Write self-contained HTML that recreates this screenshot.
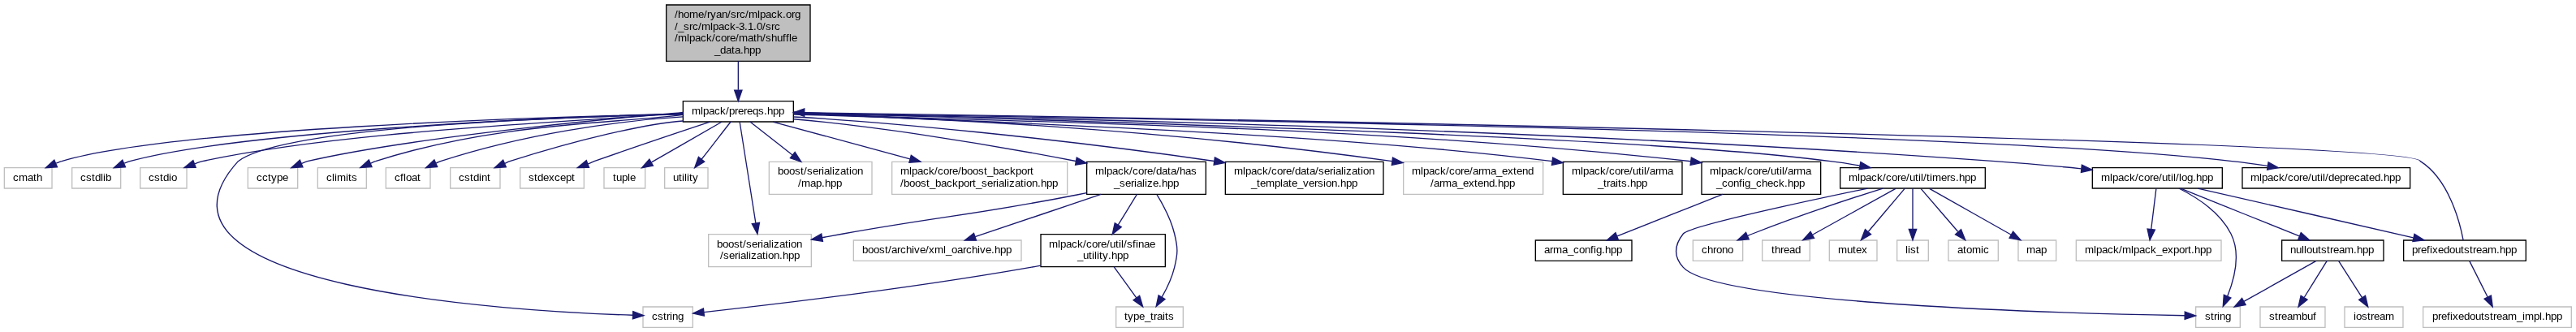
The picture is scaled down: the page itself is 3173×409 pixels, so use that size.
<!DOCTYPE html>
<html><head><meta charset="utf-8"><title>shuffle_data.hpp include graph</title>
<style>
html,body{margin:0;padding:0;background:#fff;width:3173px;height:409px;overflow:hidden}
svg{display:block;will-change:transform}
svg text{font-family:"Liberation Sans",sans-serif;font-size:10px}
</style></head><body>
<svg width="3172.667" height="409.333"
 viewBox="0.00 0.00 2379.50 307.00">
<g transform="scale(1 1) rotate(0) translate(4 303)">
<polygon fill="white" stroke="transparent" points="-4,4 -4,-303 2375.5,-303 2375.5,4 -4,4"/>
<g>
<polygon fill="#bfbfbf" stroke="black" points="611.5,-246.5 611.5,-298.5 744.5,-298.5 744.5,-246.5 611.5,-246.5"/>
<text x="619.25 622.25 627.50 632.75 641.00 646.25 649.25 652.25 657.50 662.75 668.00 671.00 676.25 679.25 684.50 687.50 695.75 698.00 703.25 708.50 713.75 719.00 722.00 727.25 730.25" y="-286.5">/home/ryan/src/mlpack.org</text>
<text x="619.25 622.25 627.50 632.75 635.75 641.00 644.00 652.25 654.50 659.75 665.00 670.25 675.50 678.50 683.75 686.75 692.00 695.00 700.25 703.25 708.50 711.50" y="-275.5">/_src/mlpack&#45;3.1.0/src</text>
<text x="619.25 622.25 630.50 632.75 638.00 643.25 648.50 653.75 656.75 662.00 667.25 670.25 675.50 678.50 686.75 692.00 695.00 700.25 703.25 708.50 713.75 719.00 722.00 725.00 727.25" y="-264.5">/mlpack/core/math/shuffle</text>
<text x="656.00 661.25 666.50 671.75 674.75 680.00 683.00 688.25 693.50" y="-253.5">_data.hpp</text>
</g>
<g>
<polygon fill="white" stroke="black" points="627,-190.5 627,-209.5 729,-209.5 729,-190.5 627,-190.5"/>
<text x="635.00 643.25 645.50 650.75 656.00 661.25 666.50 669.50 674.75 677.75 683.00 686.00 691.25 696.50 701.75 704.75 710.00 715.25" y="-197.5">mlpack/prereqs.hpp</text>
</g>
<g>
<path fill="none" stroke="midnightblue" d="M678,-246.45C678,-237.73 678,-228.1 678,-219.96"/>
<polygon fill="midnightblue" stroke="midnightblue" points="681.5,-219.7 678,-209.7 674.5,-219.7 681.5,-219.7"/>
</g>
<g>
<polygon fill="white" stroke="#bfbfbf" points="0,-129 0,-148 44,-148 44,-129 0,-129"/>
<text x="8.00 13.25 21.50 26.75 29.75" y="-136">cmath</text>
</g>
<g>
<path fill="none" stroke="midnightblue" d="M626.79,-197.71C494.19,-195.22 150.50,-183.47 53.00,-154.00 51.02,-153.48 49.90,-152.84 47.91,-152.12"/>
<polygon fill="midnightblue" stroke="midnightblue" points="48.83,-148.71 38.25,-148.03 46.10,-155.16 48.83,-148.71"/>
</g>
<g>
<polygon fill="white" stroke="#bfbfbf" points="62.5,-129 62.5,-148 107.5,-148 107.5,-129 62.5,-129"/>
<text x="70.25 75.50 80.75 83.75 89.00 91.25 93.50" y="-136">cstdlib</text>
</g>
<g>
<path fill="none" stroke="midnightblue" d="M626.73,-197.23C498.61,-195.62 211.19,-180.22 116.00,-154.00 114.02,-153.48 112.91,-152.83 110.91,-152.10"/>
<polygon fill="midnightblue" stroke="midnightblue" points="111.83,-148.69 101.26,-148.01 109.10,-155.14 111.83,-148.69"/>
</g>
<g>
<polygon fill="white" stroke="#bfbfbf" points="125.5,-129 125.5,-148 168.5,-148 168.5,-129 125.5,-129"/>
<text x="133.25 138.50 143.75 146.75 152.00 154.25" y="-136">cstdio</text>
</g>
<g>
<path fill="none" stroke="midnightblue" d="M626.97,-199.23C541.90,-190.19 322.78,-183.99 183.00,-154.00 180.33,-153.36 178.50,-152.55 175.79,-151.65"/>
<polygon fill="midnightblue" stroke="midnightblue" points="176.84,-148.30 166.24,-148.09 174.39,-154.86 176.84,-148.30"/>
</g>
<g>
<polygon fill="white" stroke="#bfbfbf" points="590,-0.5 590,-19.5 636,-19.5 636,-0.5 590,-0.5"/>
<text x="598.25 603.50 608.75 611.75 614.75 617.00 622.25" y="-7.5">cstring</text>
</g>
<g>
<path fill="none" stroke="midnightblue" d="M626.96,-197.81C525.03,-194.83 260.91,-187.19 216.00,-154.00 109.54,-36.66 467.20,-15.52 580.49,-11.79"/>
<polygon fill="midnightblue" stroke="midnightblue" points="580.79,-15.28 590.67,-11.48 580.57,-8.28 580.79,-15.28"/>
</g>
<g>
<polygon fill="white" stroke="#bfbfbf" points="225,-129 225,-148 271,-148 271,-129 225,-129"/>
<text x="233.00 238.25 243.50 246.50 251.75 257.00" y="-136">cctype</text>
</g>
<g>
<path fill="none" stroke="midnightblue" d="M626.78,-198.29C610.52,-198.60 384.74,-178.19 280.00,-154.00 277.85,-153.41 276.56,-152.69 274.39,-151.89"/>
<polygon fill="midnightblue" stroke="midnightblue" points="275.72,-148.65 265.14,-148.04 273.03,-155.12 275.72,-148.65"/>
</g>
<g>
<polygon fill="white" stroke="#bfbfbf" points="289.5,-129 289.5,-148 334.5,-148 334.5,-129 289.5,-129"/>
<text x="297.50 302.75 305.00 307.25 315.50 317.75 320.75" y="-136">climits</text>
</g>
<g>
<path fill="none" stroke="midnightblue" d="M626.77,-196.94C571.53,-189.23 455.79,-190.37 343.00,-154.00 341.12,-153.45 340.11,-152.80 338.20,-152.08"/>
<polygon fill="midnightblue" stroke="midnightblue" points="339.52,-148.84 328.95,-148.14 336.77,-155.28 339.52,-148.84"/>
</g>
<g>
<polygon fill="white" stroke="#bfbfbf" points="352.5,-129 352.5,-148 393.5,-148 393.5,-129 352.5,-129"/>
<text x="360.50 365.75 368.75 371.00 376.25 381.50" y="-136">cfloat</text>
</g>
<g>
<path fill="none" stroke="midnightblue" d="M626.80,-195.06C566.28,-191.43 479.37,-179.00 403.00,-154.00 401.33,-153.47 400.54,-152.87 398.85,-152.21"/>
<polygon fill="midnightblue" stroke="midnightblue" points="399.99,-148.89 389.43,-148.06 397.17,-155.29 399.99,-148.89"/>
</g>
<g>
<polygon fill="white" stroke="#bfbfbf" points="412,-129 412,-148 458,-148 458,-129 412,-129"/>
<text x="419.75 425.00 430.25 433.25 438.50 440.75 446.00" y="-136">cstdint</text>
</g>
<g>
<path fill="none" stroke="midnightblue" d="M626.88,-191.27C590.88,-188.29 530.69,-174.23 467.00,-154.00 465.13,-153.39 464.13,-152.70 462.22,-151.96"/>
<polygon fill="midnightblue" stroke="midnightblue" points="463.47,-148.69 452.90,-148.02 460.75,-155.14 463.47,-148.69"/>
</g>
<g>
<polygon fill="white" stroke="#bfbfbf" points="476.5,-129 476.5,-148 535.5,-148 535.5,-129 476.5,-129"/>
<text x="484.25 489.50 492.50 497.75 503.00 508.25 513.50 518.75 524.00" y="-136">stdexcept</text>
</g>
<g>
<path fill="none" stroke="midnightblue" d="M651.93,-190.43C625.05,-181.54 581.98,-167.13 545.00,-154.00 542.76,-153.20 541.35,-152.37 539.03,-151.53"/>
<polygon fill="midnightblue" stroke="midnightblue" points="540.14,-148.21 529.54,-148.05 537.72,-154.78 540.14,-148.21"/>
</g>
<g>
<polygon fill="white" stroke="#bfbfbf" points="554,-129 554,-148 592,-148 592,-129 554,-129"/>
<text x="562.25 565.25 570.50 575.75 578.00" y="-136">tuple</text>
</g>
<g>
<path fill="none" stroke="midnightblue" d="M662.96,-190.48C645.72,-180.71 618.16,-164.58 597.87,-153.08"/>
<polygon fill="midnightblue" stroke="midnightblue" points="599.34,-149.89 588.92,-148.01 595.89,-155.98 599.34,-149.89"/>
</g>
<g>
<polygon fill="white" stroke="#bfbfbf" points="610,-129 610,-148 650,-148 650,-129 610,-129"/>
<text x="617.75 623.00 626.00 628.25 630.50 632.75 635.75" y="-136">utility</text>
</g>
<g>
<path fill="none" stroke="midnightblue" d="M671.12,-190.48C663.85,-181.46 653.10,-167.02 644.06,-155.81"/>
<polygon fill="midnightblue" stroke="midnightblue" points="646.77,-153.59 637.76,-148.01 641.32,-157.99 646.77,-153.59"/>
</g>
<g>
<polygon fill="white" stroke="#bfbfbf" points="650.5,-56.5 650.5,-86.5 745.5,-86.5 745.5,-56.5 650.5,-56.5"/>
<text x="658.25 663.50 668.75 674.00 679.25 682.25 685.25 690.50 695.75 698.75 701.00 706.25 708.50 710.75 716.00 721.25 724.25 726.50 731.75" y="-74.5">boost/serialization</text>
<text x="661.25 664.25 669.50 674.75 677.75 680.00 685.25 687.50 689.75 695.00 700.25 703.25 705.50 710.75 716.00 719.00 724.25 729.50" y="-63.5">/serialization.hpp</text>
</g>
<g>
<path fill="none" stroke="midnightblue" d="M679.37,-190.31C682.38,-171.3 689.63,-125.47 694.14,-96.9"/>
<polygon fill="midnightblue" stroke="midnightblue" points="697.62,-97.31 695.73,-86.89 690.71,-96.22 697.62,-97.31"/>
</g>
<g>
<polygon fill="white" stroke="#bfbfbf" points="706.5,-123.5 706.5,-153.5 801.5,-153.5 801.5,-123.5 706.5,-123.5"/>
<text x="714.50 719.75 725.00 730.25 735.50 738.50 741.50 746.75 752.00 755.00 757.25 762.50 764.75 767.00 772.25 777.50 780.50 782.75 788.00" y="-141.5">boost/serialization</text>
<text x="733.25 736.25 744.50 749.75 755.00 758.00 763.25 768.50" y="-130.5">/map.hpp</text>
</g>
<g>
<path fill="none" stroke="midnightblue" d="M688.89,-190.48C699.09,-182.49 714.72,-170.25 728.11,-159.77"/>
<polygon fill="midnightblue" stroke="midnightblue" points="730.37,-162.44 736.09,-153.52 726.06,-156.93 730.37,-162.44"/>
</g>
<g>
<polygon fill="white" stroke="#bfbfbf" points="820,-123.5 820,-153.5 982,-153.5 982,-123.5 820,-123.5"/>
<text x="827.75 836.00 838.25 843.50 848.75 854.00 859.25 862.25 867.50 872.75 875.75 881.00 884.00 889.25 894.50 899.75 905.00 908.00 913.25 918.50 923.75 929.00 934.25 939.50 944.75 947.75" y="-141.5">mlpack/core/boost_backport</text>
<text x="827.75 830.75 836.00 841.25 846.50 851.75 854.75 860.00 865.25 870.50 875.75 881.00 886.25 891.50 894.50 897.50 902.75 908.00 913.25 916.25 918.50 923.75 926.00 928.25 933.50 938.75 941.75 944.00 949.25 954.50 957.50 962.75 968.00" y="-130.5">/boost_backport_serialization.hpp</text>
</g>
<g>
<path fill="none" stroke="midnightblue" d="M709.95,-190.48C743.40,-181.55 794.83,-167.31 836.67,-156.14"/>
<polygon fill="midnightblue" stroke="midnightblue" points="837.73,-159.48 846.49,-153.52 835.93,-152.72 837.73,-159.48"/>
</g>
<g>
<polygon fill="white" stroke="black" points="1000,-123.5 1000,-153.5 1110,-153.5 1110,-123.5 1000,-123.5"/>
<text x="1007.75 1016.00 1018.25 1023.50 1028.75 1034.00 1039.25 1042.25 1047.50 1052.75 1055.75 1061.00 1064.00 1069.25 1074.50 1077.50 1082.75 1085.75 1091.00 1096.25" y="-141.5">mlpack/core/data/has</text>
<text x="1025.00 1030.25 1035.50 1040.75 1043.75 1046.00 1051.25 1053.50 1055.75 1061.00 1066.25 1069.25 1074.50 1079.75" y="-130.5">_serialize.hpp</text>
</g>
<g>
<path fill="none" stroke="midnightblue" d="M729.17,-192.92C790.40,-188.10 892.12,-173.09 989.85,-154.12"/>
<polygon fill="midnightblue" stroke="midnightblue" points="990.7,-157.53 999.9,-152.28 989.43,-150.64 990.7,-157.53"/>
</g>
<g>
<polygon fill="white" stroke="black" points="1128,-123.5 1128,-153.5 1274,-153.5 1274,-123.5 1128,-123.5"/>
<text x="1136.00 1144.25 1146.50 1151.75 1157.00 1162.25 1167.50 1170.50 1175.75 1181.00 1184.00 1189.25 1192.25 1197.50 1202.75 1205.75 1211.00 1214.00 1219.25 1224.50 1227.50 1229.75 1235.00 1237.25 1239.50 1244.75 1250.00 1253.00 1255.25 1260.50" y="-141.5">mlpack/core/data/serialization</text>
<text x="1151.75 1157.00 1160.00 1165.25 1173.50 1178.75 1181.00 1186.25 1189.25 1194.50 1199.75 1205.00 1210.25 1213.25 1218.50 1220.75 1226.00 1231.25 1234.25 1239.50 1244.75" y="-130.5">_template_version.hpp</text>
</g>
<g>
<path fill="none" stroke="midnightblue" d="M729.08,-195.01C810.61,-190.70 970.99,-175.41 1117.63,-154.13"/>
<polygon fill="midnightblue" stroke="midnightblue" points="1118.3,-157.57 1127.72,-152.73 1117.34,-150.63 1118.3,-157.57"/>
</g>
<g>
<polygon fill="white" stroke="#bfbfbf" points="1292.5,-123.5 1292.5,-153.5 1421.5,-153.5 1421.5,-123.5 1292.5,-123.5"/>
<text x="1300.25 1308.50 1310.75 1316.00 1321.25 1326.50 1331.75 1334.75 1340.00 1345.25 1348.25 1353.50 1356.50 1361.75 1364.75 1373.00 1378.25 1383.50 1388.75 1394.00 1397.00 1402.25 1407.50" y="-141.5">mlpack/core/arma_extend</text>
<text x="1317.50 1320.50 1325.75 1328.75 1337.00 1342.25 1347.50 1352.75 1358.00 1361.00 1366.25 1371.50 1376.75 1379.75 1385.00 1390.25" y="-130.5">/arma_extend.hpp</text>
</g>
<g>
<path fill="none" stroke="midnightblue" d="M729.21,-197.25C843.69,-194.73 1059.62,-185.03 1282.09,-154.01"/>
<polygon fill="midnightblue" stroke="midnightblue" points="1282.65,-157.46 1292.1,-152.67 1281.73,-150.53 1282.65,-157.46"/>
</g>
<g>
<polygon fill="white" stroke="black" points="1440,-123.5 1440,-153.5 1550,-153.5 1550,-123.5 1440,-123.5"/>
<text x="1448.00 1456.25 1458.50 1463.75 1469.00 1474.25 1479.50 1482.50 1487.75 1493.00 1496.00 1501.25 1504.25 1509.50 1512.50 1514.75 1517.00 1520.00 1525.25 1528.25 1536.50" y="-141.5">mlpack/core/util/arma</text>
<text x="1472.00 1477.25 1480.25 1483.25 1488.50 1490.75 1493.75 1499.00 1502.00 1507.25 1512.50" y="-130.5">_traits.hpp</text>
</g>
<g>
<path fill="none" stroke="midnightblue" d="M729.42,-198.81C843.97,-191.44 1190.60,-183.83 1430.01,-153.97"/>
<polygon fill="midnightblue" stroke="midnightblue" points="1430.53,-157.43 1439.95,-152.57 1429.56,-150.5 1430.53,-157.43"/>
</g>
<g>
<polygon fill="white" stroke="black" points="1568,-123.5 1568,-153.5 1678,-153.5 1678,-123.5 1568,-123.5"/>
<text x="1575.50 1583.75 1586.00 1591.25 1596.50 1601.75 1607.00 1610.00 1615.25 1620.50 1623.50 1628.75 1631.75 1637.00 1640.00 1642.25 1644.50 1647.50 1652.75 1655.75 1664.00" y="-141.5">mlpack/core/util/arma</text>
<text x="1581.50 1586.75 1592.00 1597.25 1602.50 1605.50 1607.75 1613.00 1618.25 1623.50 1628.75 1634.00 1639.25 1644.50 1647.50 1652.75 1658.00" y="-130.5">_config_check.hpp</text>
</g>
<g>
<path fill="none" stroke="midnightblue" d="M729.43,-199.45C865.20,-189.07 1205.86,-192.50 1558.03,-153.96"/>
<polygon fill="midnightblue" stroke="midnightblue" points="1558.52,-157.43 1567.95,-152.6 1557.57,-150.49 1558.52,-157.43"/>
</g>
<g>
<polygon fill="white" stroke="black" points="1696,-129 1696,-148 1830,-148 1830,-129 1696,-129"/>
<text x="1703.75 1712.00 1714.25 1719.50 1724.75 1730.00 1735.25 1738.25 1743.50 1748.75 1751.75 1757.00 1760.00 1765.25 1768.25 1770.50 1772.75 1775.75 1778.75 1781.00 1789.25 1794.50 1797.50 1802.75 1805.75 1811.00 1816.25" y="-136">mlpack/core/util/timers.hpp</text>
</g>
<g>
<path fill="none" stroke="midnightblue" d="M729.13,-199.31C757.85,-196.66 1479.83,-181.76 1687.00,-154.00 1695.82,-152.97 1705.15,-151.50 1714.15,-149.89"/>
<polygon fill="midnightblue" stroke="midnightblue" points="1714.92,-153.31 1724.11,-148.03 1713.64,-146.43 1714.92,-153.31"/>
</g>
<g>
<polygon fill="white" stroke="black" points="1929,-129 1929,-148 2049,-148 2049,-129 1929,-129"/>
<text x="1937.00 1945.25 1947.50 1952.75 1958.00 1963.25 1968.50 1971.50 1976.75 1982.00 1985.00 1990.25 1993.25 1998.50 2001.50 2003.75 2006.00 2009.00 2011.25 2016.50 2021.75 2024.75 2030.00 2035.25" y="-136">mlpack/core/util/log.hpp</text>
</g>
<g>
<path fill="none" stroke="midnightblue" d="M729.27,-198.07C914.30,-195.13 1414.22,-185.13 1839.00,-154.00 1865.04,-152.24 1893.56,-149.65 1918.68,-147.14"/>
<polygon fill="midnightblue" stroke="midnightblue" points="1919.25,-150.6 1928.85,-146.11 1918.55,-143.64 1919.25,-150.6"/>
</g>
<g>
<polygon fill="white" stroke="black" points="2067.5,-129 2067.5,-148 2222.5,-148 2222.5,-129 2067.5,-129"/>
<text x="2075.00 2083.25 2085.50 2090.75 2096.00 2101.25 2106.50 2109.50 2114.75 2120.00 2123.00 2128.25 2131.25 2136.50 2139.50 2141.75 2144.00 2147.00 2152.25 2157.50 2162.75 2165.75 2171.00 2176.25 2181.50 2184.50 2189.75 2195.00 2198.00 2203.25 2208.50" y="-136">mlpack/core/util/deprecated.hpp</text>
</g>
<g>
<path fill="none" stroke="midnightblue" d="M729.08,-198.24C930.13,-195.26 1795.49,-184.38 2058.00,-154.00 2068.62,-152.95 2079.91,-151.39 2090.72,-149.69"/>
<polygon fill="midnightblue" stroke="midnightblue" points="2091.59,-153.09 2100.89,-148.02 2090.46,-146.18 2091.59,-153.09"/>
</g>
<g>
<path fill="none" stroke="midnightblue" d="M999.88,-124.8C996.88,-124.18 993.91,-123.57 991,-123 895.5,-104.24 870.83,-104.01 775,-87 768.76,-85.89 762.24,-84.71 755.75,-83.51"/>
<polygon fill="midnightblue" stroke="midnightblue" points="756.09,-80.01 745.62,-81.63 754.81,-86.9 756.09,-80.01"/>
</g>
<g>
<polygon fill="white" stroke="#bfbfbf" points="784.5,-62 784.5,-81 939.5,-81 939.5,-62 784.5,-62"/>
<text x="792.50 797.75 803.00 808.25 813.50 816.50 819.50 824.75 827.75 833.00 838.25 840.50 845.75 851.00 854.00 859.25 867.50 869.75 875.00 880.25 885.50 888.50 893.75 899.00 901.25 906.50 911.75 914.75 920.00 925.25" y="-69">boost/archive/xml_oarchive.hpp</text>
</g>
<g>
<path fill="none" stroke="midnightblue" d="M1013.12,-123.4C978.36,-111.69 929.49,-95.23 896.84,-84.23"/>
<polygon fill="midnightblue" stroke="midnightblue" points="897.85,-80.88 887.26,-81.01 895.62,-87.52 897.85,-80.88"/>
</g>
<g>
<polygon fill="white" stroke="black" points="957.5,-56.5 957.5,-86.5 1072.5,-86.5 1072.5,-56.5 957.5,-56.5"/>
<text x="965.00 973.25 975.50 980.75 986.00 991.25 996.50 999.50 1004.75 1010.00 1013.00 1018.25 1021.25 1026.50 1029.50 1031.75 1034.00 1037.00 1042.25 1045.25 1047.50 1052.75 1058.00" y="-74.5">mlpack/core/util/sfinae</text>
<text x="991.25 996.50 1001.75 1004.75 1007.00 1009.25 1011.50 1014.50 1019.75 1022.75 1028.00 1033.25" y="-63.5">_utility.hpp</text>
</g>
<g>
<path fill="none" stroke="midnightblue" d="M1046.32,-123.4C1041.24,-115.13 1034.7,-104.51 1028.91,-95.1"/>
<polygon fill="midnightblue" stroke="midnightblue" points="1031.88,-93.26 1023.66,-86.58 1025.92,-96.93 1031.88,-93.26"/>
</g>
<g>
<polygon fill="white" stroke="#bfbfbf" points="1027,-0.5 1027,-19.5 1089,-19.5 1089,-0.5 1027,-0.5"/>
<text x="1034.75 1037.75 1043.00 1048.25 1053.50 1058.75 1061.75 1064.75 1070.00 1072.25 1075.25" y="-7.5">type_traits</text>
</g>
<g>
<path fill="none" stroke="midnightblue" d="M1064.7,-123.21C1070.7,-113.47 1077.84,-100.03 1081,-87 1084.24,-73.61 1084.22,-69.4 1081,-56 1078.69,-46.42 1073.98,-36.58 1069.42,-28.56"/>
<polygon fill="midnightblue" stroke="midnightblue" points="1072.29,-26.54 1064.1,-19.81 1066.31,-30.17 1072.29,-26.54"/>
</g>
<g>
<path fill="none" stroke="midnightblue" d="M957.31,-57.71C954.17,-57.11 951.05,-56.53 948,-56 838.12,-36.76 706.72,-21.28 646.34,-14.59"/>
<polygon fill="midnightblue" stroke="midnightblue" points="646.57,-11.09 636.25,-13.48 645.81,-18.05 646.57,-11.09"/>
</g>
<g>
<path fill="none" stroke="midnightblue" d="M1025.19,-56.4C1031.37,-47.84 1039.3,-36.87 1045.82,-27.86"/>
<polygon fill="midnightblue" stroke="midnightblue" points="1048.72,-29.81 1051.74,-19.66 1043.05,-25.71 1048.72,-29.81"/>
</g>
<g>
<polygon fill="white" stroke="black" points="1414.5,-62 1414.5,-81 1503.5,-81 1503.5,-62 1414.5,-62"/>
<text x="1422.50 1427.75 1430.75 1439.00 1444.25 1449.50 1454.75 1460.00 1465.25 1468.25 1470.50 1475.75 1478.75 1484.00 1489.25" y="-69">arma_config.hpp</text>
</g>
<g>
<path fill="none" stroke="midnightblue" d="M1587.41,-123.4C1558.38,-111.89 1517.78,-95.8 1490.05,-84.81"/>
<polygon fill="midnightblue" stroke="midnightblue" points="1491.05,-81.44 1480.46,-81.01 1488.47,-87.95 1491.05,-81.44"/>
</g>
<g>
<polygon fill="white" stroke="#bfbfbf" points="1560,-62 1560,-81 1606,-81 1606,-62 1560,-62"/>
<text x="1568.00 1573.25 1578.50 1581.50 1586.75 1592.00" y="-69">chrono</text>
</g>
<g>
<path fill="none" stroke="midnightblue" d="M1735.43,-128.97C1705.49,-119.51 1656.4,-103.4 1615,-87 1613.58,-86.44 1612.14,-85.85 1610.68,-85.24"/>
<polygon fill="midnightblue" stroke="midnightblue" points="1611.71,-81.87 1601.15,-81.09 1608.92,-88.29 1611.71,-81.87"/>
</g>
<g>
<polygon fill="white" stroke="#bfbfbf" points="1624,-62 1624,-81 1668,-81 1668,-62 1624,-62"/>
<text x="1632.50 1635.50 1640.75 1643.75 1649.00 1654.25" y="-69">thread</text>
</g>
<g>
<path fill="none" stroke="midnightblue" d="M1747.22,-128.73C1727.49,-117.77 1693.49,-98.88 1670.39,-86.05"/>
<polygon fill="midnightblue" stroke="midnightblue" points="1671.97,-82.92 1661.53,-81.13 1668.57,-89.04 1671.97,-82.92"/>
</g>
<g>
<polygon fill="white" stroke="#bfbfbf" points="1686,-62 1686,-81 1730,-81 1730,-62 1686,-62"/>
<text x="1694.00 1702.25 1707.50 1710.50 1715.75" y="-69">mutex</text>
</g>
<g>
<path fill="none" stroke="midnightblue" d="M1755.58,-128.73C1747.01,-118.6 1732.7,-101.69 1722.01,-89.06"/>
<polygon fill="midnightblue" stroke="midnightblue" points="1724.43,-86.5 1715.3,-81.13 1719.09,-91.02 1724.43,-86.5"/>
</g>
<g>
<polygon fill="white" stroke="#bfbfbf" points="1748.5,-62 1748.5,-81 1777.5,-81 1777.5,-62 1748.5,-62"/>
<text x="1756.25 1758.50 1760.75 1766.00" y="-69">list</text>
</g>
<g>
<path fill="none" stroke="midnightblue" d="M1763,-128.73C1763,-119.18 1763,-103.62 1763,-91.28"/>
<polygon fill="midnightblue" stroke="midnightblue" points="1766.5,-91.13 1763,-81.13 1759.5,-91.13 1766.5,-91.13"/>
</g>
<g>
<polygon fill="white" stroke="#bfbfbf" points="1796,-62 1796,-81 1842,-81 1842,-62 1796,-62"/>
<text x="1804.25 1809.50 1812.50 1817.75 1826.00 1828.25" y="-69">atomic</text>
</g>
<g>
<path fill="none" stroke="midnightblue" d="M1770.55,-128.73C1779.28,-118.6 1793.85,-101.69 1804.74,-89.06"/>
<polygon fill="midnightblue" stroke="midnightblue" points="1807.69,-90.99 1811.57,-81.13 1802.39,-86.42 1807.69,-90.99"/>
</g>
<g>
<polygon fill="white" stroke="#bfbfbf" points="1860.5,-62 1860.5,-81 1895.5,-81 1895.5,-62 1860.5,-62"/>
<text x="1868.00 1876.25 1881.50" y="-69">map</text>
</g>
<g>
<path fill="none" stroke="midnightblue" d="M1778.51,-128.73C1797.91,-117.77 1831.33,-98.88 1854.03,-86.05"/>
<polygon fill="midnightblue" stroke="midnightblue" points="1855.75,-89.09 1862.74,-81.13 1852.31,-83 1855.75,-89.09"/>
</g>
<g>
<polygon fill="white" stroke="#bfbfbf" points="2024.5,-0.5 2024.5,-19.5 2065.5,-19.5 2065.5,-0.5 2024.5,-0.5"/>
<text x="2033.00 2038.25 2041.25 2044.25 2046.50 2051.75" y="-7.5">string</text>
</g>
<g>
<path fill="none" stroke="midnightblue" d="M1721.44,-128.97C1661.24,-116.43 1556.33,-93.75 1551,-87 1542.46,-76.19 1541.71,-66.17 1551,-56 1582.3,-21.72 1911.32,-13.26 2014.34,-11.45"/>
<polygon fill="midnightblue" stroke="midnightblue" points="2014.47,-14.95 2024.41,-11.28 2014.35,-7.95 2014.47,-14.95"/>
</g>
<g>
<path fill="none" stroke="midnightblue" d="M2008.9,-128.99C2025.16,-120.84 2047.02,-106.84 2057,-87 2066.16,-68.79 2060.14,-45.29 2053.78,-29.27"/>
<polygon fill="midnightblue" stroke="midnightblue" points="2056.92,-27.72 2049.71,-19.96 2050.5,-30.53 2056.92,-27.72"/>
</g>
<g>
<polygon fill="white" stroke="#bfbfbf" points="1914,-62 1914,-81 2048,-81 2048,-62 1914,-62"/>
<text x="1922.00 1930.25 1932.50 1937.75 1943.00 1948.25 1953.50 1956.50 1964.75 1967.00 1972.25 1977.50 1982.75 1988.00 1993.25 1998.50 2003.75 2009.00 2014.25 2017.25 2020.25 2023.25 2028.50 2033.75" y="-69">mlpack/mlpack_export.hpp</text>
</g>
<g>
<path fill="none" stroke="midnightblue" d="M1987.92,-128.73C1986.75,-119.18 1984.83,-103.62 1983.31,-91.28"/>
<polygon fill="midnightblue" stroke="midnightblue" points="1986.76,-90.62 1982.06,-81.13 1979.81,-91.48 1986.76,-90.62"/>
</g>
<g>
<polygon fill="white" stroke="black" points="2104,-62 2104,-81 2198,-81 2198,-62 2104,-62"/>
<text x="2111.75 2117.00 2122.25 2124.50 2126.75 2132.00 2137.25 2140.25 2145.50 2148.50 2151.50 2156.75 2162.00 2170.25 2173.25 2178.50 2183.75" y="-69">nulloutstream.hpp</text>
</g>
<g>
<path fill="none" stroke="midnightblue" d="M2010.51,-128.87C2038.67,-117.57 2088.2,-97.7 2120.3,-84.82"/>
<polygon fill="midnightblue" stroke="midnightblue" points="2121.68,-88.04 2129.66,-81.06 2119.07,-81.54 2121.68,-88.04"/>
</g>
<g>
<polygon fill="white" stroke="black" points="2216.5,-62 2216.5,-81 2329.5,-81 2329.5,-62 2216.5,-62"/>
<text x="2224.25 2229.50 2232.50 2237.75 2240.75 2243.00 2248.25 2253.50 2258.75 2264.00 2269.25 2272.25 2277.50 2280.50 2283.50 2288.75 2294.00 2302.25 2305.25 2310.50 2315.75" y="-69">prefixedoutstream.hpp</text>
</g>
<g>
<path fill="none" stroke="midnightblue" d="M2026.42,-128.94C2077.61,-117.22 2169.48,-96.19 2225.48,-83.38"/>
<polygon fill="midnightblue" stroke="midnightblue" points="2226.53,-86.73 2235.5,-81.08 2224.97,-79.9 2226.53,-86.73"/>
</g>
<g>
<path fill="none" stroke="midnightblue" d="M2135.81,-61.98C2118.34,-52.17 2089.42,-35.93 2068.92,-24.42"/>
<polygon fill="midnightblue" stroke="midnightblue" points="2070.59,-21.35 2060.16,-19.51 2067.17,-27.46 2070.59,-21.35"/>
</g>
<g>
<polygon fill="white" stroke="#bfbfbf" points="2084,-0.5 2084,-19.5 2144,-19.5 2144,-0.5 2084,-0.5"/>
<text x="2092.25 2097.50 2100.50 2103.50 2108.75 2114.00 2122.25 2127.50 2132.75" y="-7.5">streambuf</text>
</g>
<g>
<path fill="none" stroke="midnightblue" d="M2145.7,-61.98C2140.26,-53.23 2131.64,-39.37 2124.76,-28.31"/>
<polygon fill="midnightblue" stroke="midnightblue" points="2127.54,-26.15 2119.29,-19.51 2121.6,-29.85 2127.54,-26.15"/>
</g>
<g>
<polygon fill="white" stroke="#bfbfbf" points="2162,-0.5 2162,-19.5 2216,-19.5 2216,-0.5 2162,-0.5"/>
<text x="2170.25 2172.50 2177.75 2183.00 2186.00 2189.00 2194.25 2199.50" y="-7.5">iostream</text>
</g>
<g>
<path fill="none" stroke="midnightblue" d="M2156.44,-61.98C2162.09,-53.14 2171.06,-39.09 2178.16,-27.98"/>
<polygon fill="midnightblue" stroke="midnightblue" points="2181.13,-29.82 2183.57,-19.51 2175.23,-26.05 2181.13,-29.82"/>
</g>
<g>
<path fill="none" stroke="midnightblue" d="M2271.61,-81.09C2268.31,-98.41 2258.19,-137.33 2232.00,-154.00 2229.34,-173.73 1006.97,-195.02 739.47,-198.97"/>
<polygon fill="midnightblue" stroke="midnightblue" points="739.08,-195.47 729.08,-198.98 739.09,-202.47 739.08,-195.47"/>
</g>
<g>
<polygon fill="white" stroke="#bfbfbf" points="2234.5,-0.5 2234.5,-19.5 2371.5,-19.5 2371.5,-0.5 2234.5,-0.5"/>
<text x="2243.00 2248.25 2251.25 2256.50 2259.50 2261.75 2267.00 2272.25 2277.50 2282.75 2288.00 2291.00 2296.25 2299.25 2302.25 2307.50 2312.75 2321.00 2326.25 2328.50 2336.75 2342.00 2344.25 2347.25 2352.50 2357.75" y="-7.5">prefixedoutstream_impl.hpp</text>
</g>
<g>
<path fill="none" stroke="midnightblue" d="M2277.3,-61.98C2281.66,-53.32 2288.56,-39.65 2294.1,-28.65"/>
<polygon fill="midnightblue" stroke="midnightblue" points="2297.33,-30.01 2298.71,-19.51 2291.08,-26.86 2297.33,-30.01"/>
</g>
</g>
</svg>
</body></html>
